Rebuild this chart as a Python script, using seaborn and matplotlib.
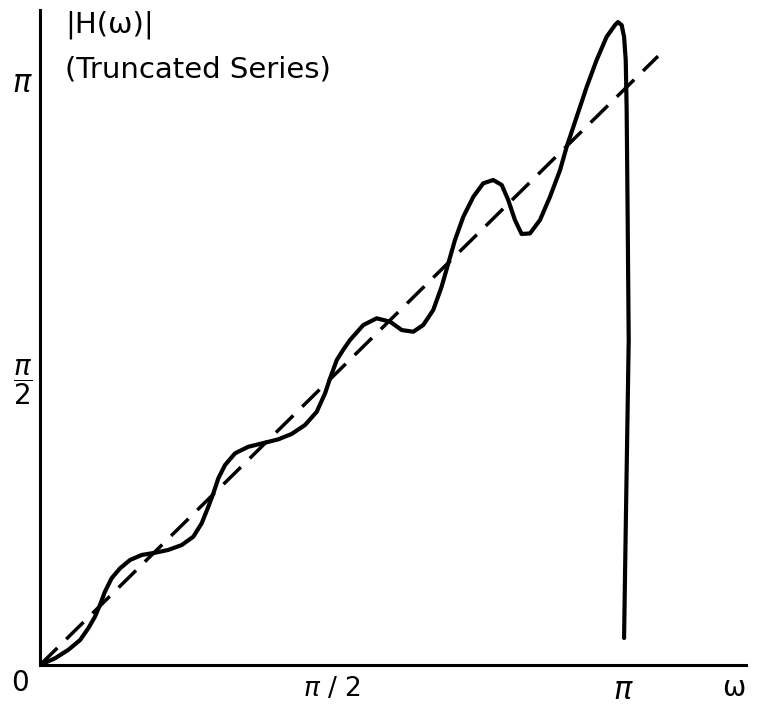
import numpy as np
import pandas as pd
import matplotlib
matplotlib.use("Agg")
import matplotlib.pyplot as plt
import seaborn as sns

# Truncated-series magnitude response (omega, |H|)
omega = [0.000, 0.081, 0.152, 0.216, 0.260, 0.296, 0.323, 0.350, 0.386, 0.431,
         0.485, 0.548, 0.620, 0.691, 0.763, 0.826, 0.871, 0.907, 0.934, 0.961,
         0.997, 1.051, 1.122, 1.212, 1.284, 1.356, 1.428, 1.491, 1.536, 1.563,
         1.599, 1.633, 1.670, 1.742, 1.814, 1.886, 1.949, 2.011, 2.065, 2.119,
         2.164, 2.200, 2.236, 2.281, 2.335, 2.388, 2.442, 2.488, 2.523, 2.559,
         2.595, 2.640, 2.694, 2.748, 2.802, 2.838, 2.892, 2.946, 2.999, 3.053,
         3.098, 3.114, 3.134, 3.147, 3.156, 3.161, 3.166, 3.172, 3.157, 3.147]
H_trunc = [0.000, 0.036, 0.081, 0.134, 0.197, 0.259, 0.322, 0.394, 0.466, 0.519,
           0.564, 0.591, 0.603, 0.618, 0.644, 0.689, 0.761, 0.850, 0.922, 1.003,
           1.074, 1.137, 1.172, 1.194, 1.212, 1.241, 1.289, 1.360, 1.459, 1.540,
           1.638, 1.692, 1.745, 1.826, 1.862, 1.844, 1.799, 1.790, 1.826, 1.907,
           2.032, 2.157, 2.283, 2.408, 2.515, 2.587, 2.605, 2.578, 2.497, 2.390,
           2.315, 2.318, 2.390, 2.515, 2.658, 2.784, 2.945, 3.106, 3.249, 3.374,
           3.437, 3.453, 3.437, 3.374, 3.249, 2.981, 2.444, 1.745, 0.795, 0.145]

# Ideal response (dashed straight line)
omega_ideal = [0.0, 3.33]
H_ideal = [0.0, 3.27]

xtick_vals = [np.pi / 2, np.pi]
xtick_labels = [r"$\pi\ /\ 2$", r"$\pi$"]
ytick_vals = [np.pi / 2, np.pi]
ytick_labels = [r"$\dfrac{\pi}{2}$", r"$\pi$"]

sns.set_style("white")
plt.rcParams["font.family"] = ["DejaVu Sans"]
plt.rcParams["mathtext.fontset"] = "dejavusans"
plt.rcParams["text.color"] = "black"

fig = plt.figure(figsize=(7.57, 7.07), dpi=100)
ax = fig.add_axes([40 / 757, 42 / 707, 706 / 757, 655 / 707])

df_t = pd.DataFrame({"w": omega, "H": H_trunc})
df_i = pd.DataFrame({"w": omega_ideal, "H": H_ideal})

sns.lineplot(data=df_t, x="w", y="H", sort=False, estimator=None, ax=ax,
             color="black", linewidth=3.0, solid_capstyle="round",
             solid_joinstyle="round")
sns.lineplot(data=df_i, x="w", y="H", sort=False, estimator=None, ax=ax,
             color="black", linewidth=2.5)
ax.lines[-1].set_linestyle((0, (7.0, 3.6)))

ax.set_xlim(0, 3.804)
ax.set_ylim(0, 3.518)

for side in ["top", "right"]:
    ax.spines[side].set_visible(False)
for side in ["left", "bottom"]:
    ax.spines[side].set_linewidth(2.2)
    ax.spines[side].set_color("black")

ax.set_xticks(xtick_vals)
ax.set_xticklabels(xtick_labels)
ax.set_yticks(ytick_vals)
ax.set_yticklabels(ytick_labels)
for lab, fs in zip(ax.get_xticklabels(), [19, 22]):
    lab.set_fontsize(fs)
for lab, fs in zip(ax.get_yticklabels(), [20, 22]):
    lab.set_fontsize(fs)
ax.tick_params(axis="x", direction="in", length=9, width=2, pad=8,
               colors="black", labelcolor="black")
ax.tick_params(axis="y", direction="in", length=13, width=2, pad=5,
               colors="black", labelcolor="black")
ax.set_xlabel("")
ax.set_ylabel("")

ax.text(-0.108, -0.097, "0", fontsize=20, color="black", ha="center",
        va="center", clip_on=False)
ax.text(3.74, -0.125, "ω", fontsize=20, color="black", ha="center",
        va="center", clip_on=False)
ax.text(0.135, 3.437, "|H(ω)|", fontsize=21, color="black", ha="left",
        va="center", clip_on=False)
ax.text(0.135, 3.196, "(Truncated Series)", fontsize=21, color="black",
        ha="left", va="center", clip_on=False)

fig.savefig("out.png", dpi=100)
